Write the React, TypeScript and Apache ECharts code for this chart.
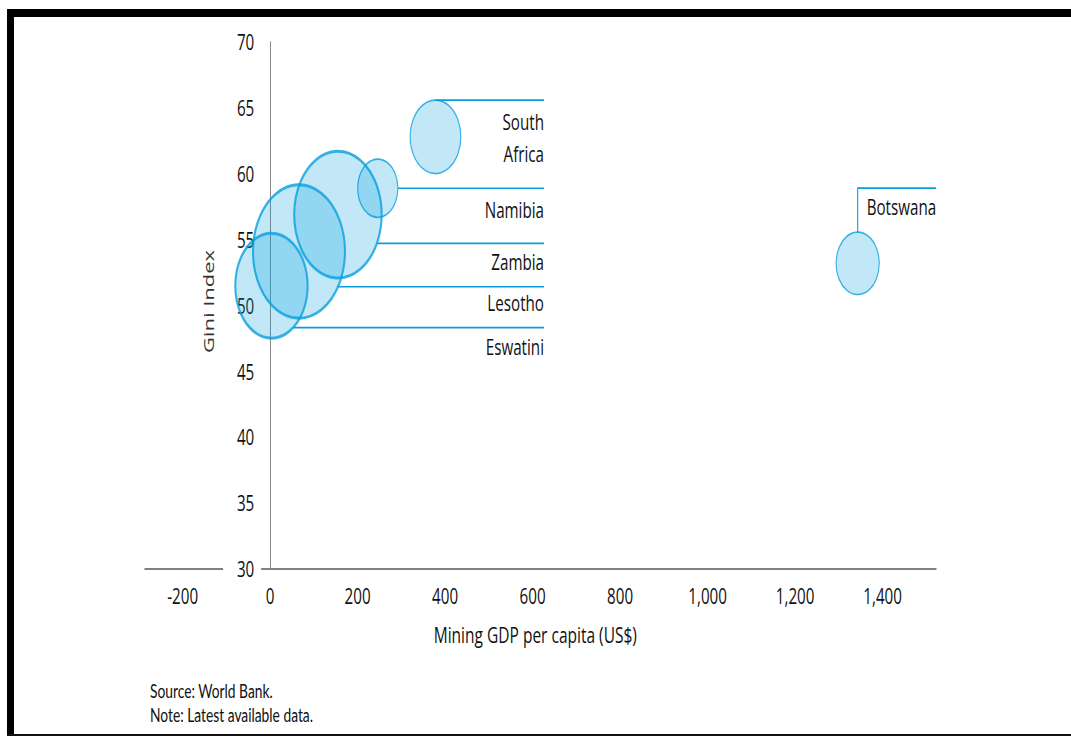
import React, { useEffect, useRef } from 'react';
import * as echarts from 'echarts';

// Mining GDP per capita vs Gini index, bubble area = size value
const countries = ['South Africa', 'Namibia', 'Zambia', 'Lesotho', 'Eswatini', 'Botswana'];
const countryLabels = ['South\nAfrica', 'Namibia', 'Zambia', 'Lesotho', 'Eswatini', 'Botswana'];
const miningGdpPerCapita = [378, 246, 155, 66, 3, 1343];
const giniIndex = [62.8, 58.9, 56.9, 54.1, 51.5, 53.2];
const bubbleSize = [5.4, 3.4, 16.1, 17.8, 11.0, 3.9];

const xTickValues = [-200, 0, 200, 400, 600, 800, 1000, 1200, 1400];
const yTickValues = [30, 35, 40, 45, 50, 55, 60, 65, 70];
const X_MIN = -286;
const X_MAX = 1522;

const footnotes = ['Source: World Bank.', 'Note: Latest available data.'];

// Leader lines: angle on the bubble outline where each leader starts (degrees),
// label drop below the leader, and whether the leader bends up and right.
const leaderAngle = [90, 0, -27, -32, -53, 90];
const labelDrop = [37.5, 21.8, 18.5, 15.8, 19.7, 18.6];
const leaderElbow = [false, false, false, false, false, true];

// The chart is drawn wide and squeezed horizontally.
const SQUEEZE = 0.69;
const CHART_W = 1552;
const CHART_H = 736;
const GRID_LEFT = 145 / SQUEEZE;
const GRID_RIGHT_EDGE = 936 / SQUEEZE;
const GRID_W = GRID_RIGHT_EDGE - GRID_LEFT;
const LABEL_RIGHT = 544 / SQUEEZE;
const ELBOW_RISE = 44;
const BUBBLE_SCALE = 31.6;

const BLUE = '#0a9fdc';
const TEXT = '#111111';
const FONT = '"Open Sans", "Noto Sans", sans-serif';
const FS = 22;

const diameter = (v: number) => BUBBLE_SCALE * Math.sqrt(v);

// the value axis crosses the horizontal axis at x = 0
const yAxisShift = -((0 - X_MIN) / (X_MAX - X_MIN)) * GRID_W;

export default function App() {
  const ref = useRef<HTMLDivElement>(null);

  useEffect(() => {
    if (!ref.current) return;
    const chart = echarts.init(ref.current, null, { renderer: 'svg' });

    const points = countries.map((name, i) => ({
      name,
      value: [miningGdpPerCapita[i], giniIndex[i], bubbleSize[i]],
      itemStyle: { borderWidth: diameter(bubbleSize[i]) > 100 ? 3 : 1.6 },
    }));

    const option: any = {
      animation: false,
      backgroundColor: '#ffffff',
      grid: {
        left: GRID_LEFT,
        right: CHART_W - GRID_RIGHT_EDGE,
        top: 42,
        bottom: CHART_H - 569,
        containLabel: false,
        outerBoundsMode: 'none',
      },
      xAxis: {
        type: 'value',
        min: X_MIN,
        max: X_MAX,
        z: 0,
        splitLine: { show: false },
        axisTick: { show: false },
        axisLine: { onZero: false, lineStyle: { color: '#808080', width: 2 } },
        axisLabel: {
          customValues: xTickValues,
          margin: 16,
          fontSize: FS,
          fontFamily: FONT,
          color: TEXT,
          formatter: (v: number) => v.toLocaleString('en-US'),
        },
        name: 'Mining GDP per capita (US$)',
        nameLocation: 'middle',
        nameGap: 54,
        nameTextStyle: { fontSize: FS + 0.5, fontFamily: FONT, color: TEXT, padding: [0, 15, 0, 0] },
      },
      yAxis: {
        type: 'value',
        min: yTickValues[0],
        max: yTickValues[yTickValues.length - 1],
        interval: yTickValues[1] - yTickValues[0],
        offset: yAxisShift,
        z: 1,
        splitLine: { show: false },
        axisTick: { show: false },
        axisLine: { onZero: false, lineStyle: { color: '#8a8a8a', width: 1.5 } },
        axisLabel: {
          margin: 13,
          fontSize: FS,
          fontFamily: FONT,
          color: TEXT,
          backgroundColor: '#ffffff',
          padding: [2, 10, 2, 20],
        },
        name: 'Gini Index',
        nameLocation: 'middle',
        nameRotate: 90,
        nameGap: 77,
        nameTextStyle: { fontSize: FS, fontFamily: FONT, color: '#333333', padding: [0, 0, 0, 8] },
      },
      series: [
        {
          type: 'scatter',
          z: 2,
          data: points,
          symbol: 'circle',
          symbolSize: (val: number[]) => diameter(val[2]),
          itemStyle: { color: 'rgba(0,160,227,0.3)', borderColor: BLUE },
          emphasis: { disabled: true },
        },
        {
          type: 'custom',
          z: 3,
          silent: true,
          clip: false,
          data: points.map((p) => p.value),
          encode: { x: 0, y: 1 },
          renderItem: (params: any, api: any) => {
            const i = params.dataIndex;
            const [cx, cy] = api.coord([api.value(0), api.value(1)]);
            const r = diameter(api.value(2)) / 2;
            const a = (leaderAngle[i] * Math.PI) / 180;
            const sx = cx + r * Math.cos(a);
            const sy = cy - r * Math.sin(a);
            const stroke = { stroke: BLUE, lineWidth: 1.6, fill: null };
            const textStyle = {
              text: countryLabels[i],
              fill: TEXT,
              fontSize: FS,
              fontFamily: FONT,
              lineHeight: 31.6,
              verticalAlign: 'middle',
            };
            if (leaderElbow[i]) {
              const top = sy - ELBOW_RISE;
              const right = params.coordSys.x + params.coordSys.width;
              return {
                type: 'group',
                children: [
                  {
                    type: 'polyline',
                    shape: { points: [[sx, sy], [sx, top], [right, top]] },
                    style: stroke,
                  },
                  {
                    type: 'text',
                    x: sx + 9 / SQUEEZE,
                    y: top + labelDrop[i],
                    style: { ...textStyle, align: 'left' },
                  },
                ],
              };
            }
            return {
              type: 'group',
              children: [
                {
                  type: 'line',
                  shape: { x1: sx, y1: sy, x2: LABEL_RIGHT, y2: sy },
                  style: stroke,
                },
                {
                  type: 'text',
                  x: LABEL_RIGHT,
                  y: sy + labelDrop[i],
                  style: { ...textStyle, align: 'right' },
                },
              ],
            };
          },
        },
      ],
      graphic: [
        {
          type: 'text',
          x: 150 / SQUEEZE,
          y: 702.5,
          style: {
            text: footnotes.join('\n'),
            fill: TEXT,
            fontSize: 20,
            lineHeight: 24.5,
            fontFamily: 'Lato, sans-serif',
            verticalAlign: 'middle',
          },
        },
      ],
    };

    chart.setOption(option);
    return () => chart.dispose();
  }, []);

  return (
    <div
      style={{
        position: 'fixed',
        left: 0,
        top: 0,
        width: 1071,
        height: 736,
        overflow: 'hidden',
        background: '#ffffff',
      }}
    >
      <div
        ref={ref}
        style={{
          position: 'absolute',
          left: 0,
          top: 0,
          width: CHART_W,
          height: CHART_H,
          transform: `scaleX(${SQUEEZE})`,
          transformOrigin: '0 0',
        }}
      />
      {/* page frame */}
      <div style={{ position: 'absolute', left: 7, top: 9, width: 1064, height: 8, background: '#000' }} />
      <div style={{ position: 'absolute', left: 7, top: 9, width: 7, height: 727, background: '#000' }} />
      <div style={{ position: 'absolute', left: 7, top: 734, width: 1064, height: 2, background: '#111' }} />
    </div>
  );
}
